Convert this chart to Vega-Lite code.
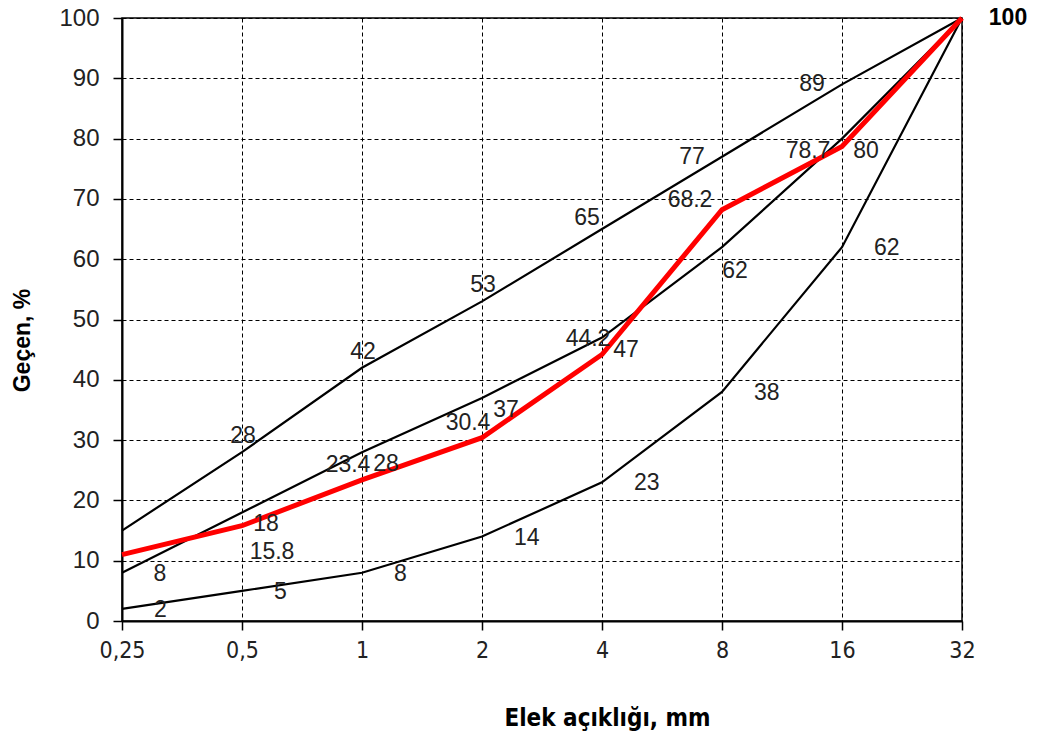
{
  "$schema": "https://vega.github.io/schema/vega-lite/v6.json",
  "autosize": "none",
  "width": 840,
  "height": 603,
  "padding": {"left": 122, "top": 18, "right": 82, "bottom": 117},
  "background": "white",
  "config": {
    "view": {"stroke": "black", "strokeWidth": 1.5},
    "font": "Liberation Sans"
  },
  "data": {
    "values": [
      {"size": 0.25, "series": "U", "pct": 15},
      {"size": 0.5, "series": "U", "pct": 28},
      {"size": 1, "series": "U", "pct": 42},
      {"size": 2, "series": "U", "pct": 53},
      {"size": 4, "series": "U", "pct": 65},
      {"size": 8, "series": "U", "pct": 77},
      {"size": 16, "series": "U", "pct": 89},
      {"size": 32, "series": "U", "pct": 100},
      {"size": 0.25, "series": "M", "pct": 8},
      {"size": 0.5, "series": "M", "pct": 18},
      {"size": 1, "series": "M", "pct": 28},
      {"size": 2, "series": "M", "pct": 37},
      {"size": 4, "series": "M", "pct": 47},
      {"size": 8, "series": "M", "pct": 62},
      {"size": 16, "series": "M", "pct": 80},
      {"size": 32, "series": "M", "pct": 100},
      {"size": 0.25, "series": "L", "pct": 2},
      {"size": 0.5, "series": "L", "pct": 5},
      {"size": 1, "series": "L", "pct": 8},
      {"size": 2, "series": "L", "pct": 14},
      {"size": 4, "series": "L", "pct": 23},
      {"size": 8, "series": "L", "pct": 38},
      {"size": 16, "series": "L", "pct": 62},
      {"size": 32, "series": "L", "pct": 100},
      {"size": 0.25, "series": "R", "pct": 11},
      {"size": 0.5, "series": "R", "pct": 15.8},
      {"size": 1, "series": "R", "pct": 23.4},
      {"size": 2, "series": "R", "pct": 30.4},
      {"size": 4, "series": "R", "pct": 44.2},
      {"size": 8, "series": "R", "pct": 68.2},
      {"size": 16, "series": "R", "pct": 78.7},
      {"size": 32, "series": "R", "pct": 100}
    ]
  },
  "encoding": {
    "x": {
      "field": "size", "type": "quantitative",
      "scale": {"type": "log", "base": 2, "domain": [0.25, 32], "nice": false},
      "axis": {
        "values": [0.25, 0.5, 1, 2, 4, 8, 16, 32],
        "labelExpr": "replace(format(datum.value, '~g'), '.', ',')",
        "title": "Elek açıklığı, mm",
        "titleFont": "'DejaVu Sans Condensed', 'Liberation Sans', sans-serif",
        "titleFontSize": 24,
        "titleFontWeight": "bold",
        "titleColor": "black",
        "titleX": 485,
        "titleY": 97,
        "titleBaseline": "middle",
        "labelFont": "'DejaVu Sans Condensed', 'Liberation Sans', sans-serif",
        "labelFontSize": 23,
        "labelColor": "#222",
        "labelPadding": 9,
        "labelFlush": false,
        "labelOverlap": false,
        "grid": true,
        "gridColor": "black",
        "gridDash": [4, 3],
        "gridWidth": 1,
        "gridOpacity": 1,
        "domainColor": "black",
        "domainWidth": 2,
        "tickColor": "black",
        "tickSize": 9,
        "tickWidth": 1.5
      }
    },
    "y": {
      "field": "pct", "type": "quantitative",
      "scale": {"domain": [0, 100], "nice": false, "zero": true},
      "axis": {
        "values": [0, 10, 20, 30, 40, 50, 60, 70, 80, 90, 100],
        "title": "Geçen, %",
        "titleFontSize": 23,
        "titleFontWeight": "bold",
        "titleColor": "black",
        "titleX": -100,
        "titleY": 322,
        "titleBaseline": "middle",
        "titleAlign": "center",
        "labelFontSize": 24,
        "labelColor": "#222",
        "labelPadding": 14,
        "labelOverlap": false,
        "grid": true,
        "gridColor": "black",
        "gridDash": [4, 3],
        "gridWidth": 1,
        "gridOpacity": 1,
        "domainColor": "black",
        "domainWidth": 2,
        "tickColor": "black",
        "tickSize": 9,
        "tickWidth": 1.5
      }
    }
  },
  "layer": [
    {
      "transform": [{"filter": "datum.series != 'R'"}],
      "mark": {"type": "line", "color": "black", "strokeWidth": 2.2},
      "encoding": {"detail": {"field": "series"}}
    },
    {
      "transform": [{"filter": "datum.series == 'R'"}],
      "mark": {"type": "line", "color": "#ff0000", "strokeWidth": 5}
    },
    {
      "transform": [{"filter": "datum.series == 'U' && indexof([0.5, 1, 2], datum.size) >= 0"}],
      "mark": {"type": "text", "fontSize": 23, "color": "#222", "dx": 1, "dy": -16},
      "encoding": {"text": {"field": "pct"}}
    },
    {
      "transform": [{"filter": "datum.series == 'U' && datum.size == 4"}],
      "mark": {"type": "text", "fontSize": 23, "color": "#222", "dx": -15, "dy": -11},
      "encoding": {"text": {"field": "pct"}}
    },
    {
      "transform": [{"filter": "datum.series == 'U' && indexof([8, 16], datum.size) >= 0"}],
      "mark": {"type": "text", "fontSize": 23, "color": "#222", "dx": -30, "dy": 0},
      "encoding": {"text": {"field": "pct"}}
    },
    {
      "transform": [{"filter": "datum.series == 'U' && datum.size == 32"}],
      "mark": {"type": "text", "fontSize": 23, "fontWeight": "bold", "color": "black", "dx": 46, "dy": 0},
      "encoding": {"text": {"field": "pct"}}
    },
    {
      "transform": [{"filter": "datum.series == 'M' && datum.size == 0.25"}],
      "mark": {"type": "text", "fontSize": 23, "color": "#222", "dx": 38, "dy": 1},
      "encoding": {"text": {"field": "pct"}}
    },
    {
      "transform": [{"filter": "datum.series == 'M' && indexof([0.5, 1, 2, 4, 16], datum.size) >= 0"}],
      "mark": {"type": "text", "fontSize": 23, "color": "#222", "dx": 24, "dy": 12},
      "encoding": {"text": {"field": "pct"}}
    },
    {
      "transform": [{"filter": "datum.series == 'M' && datum.size == 8"}],
      "mark": {"type": "text", "fontSize": 23, "color": "#222", "dx": 13, "dy": 24},
      "encoding": {"text": {"field": "pct"}}
    },
    {
      "transform": [{"filter": "datum.series == 'L' && datum.size < 32"}],
      "mark": {"type": "text", "fontSize": 23, "color": "#222", "align": "left", "dx": 32, "dy": 1},
      "encoding": {"text": {"field": "pct"}}
    },
    {
      "transform": [{"filter": "datum.series == 'R' && datum.size == 0.5"}],
      "mark": {"type": "text", "fontSize": 23, "color": "#222", "dx": 30, "dy": 26},
      "encoding": {"text": {"field": "pct"}}
    },
    {
      "transform": [{"filter": "datum.series == 'R' && indexof([1, 2, 4], datum.size) >= 0"}],
      "mark": {"type": "text", "fontSize": 23, "color": "#222", "dx": -14, "dy": -15},
      "encoding": {"text": {"field": "pct"}}
    },
    {
      "transform": [{"filter": "datum.series == 'R' && datum.size == 8"}],
      "mark": {"type": "text", "fontSize": 23, "color": "#222", "dx": -32, "dy": -10},
      "encoding": {"text": {"field": "pct"}}
    },
    {
      "transform": [{"filter": "datum.series == 'R' && datum.size == 16"}],
      "mark": {"type": "text", "fontSize": 23, "color": "#222", "dx": -34, "dy": 5},
      "encoding": {"text": {"field": "pct"}}
    }
  ]
}
